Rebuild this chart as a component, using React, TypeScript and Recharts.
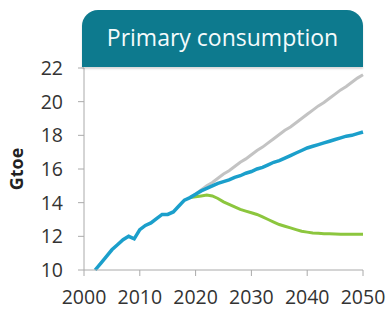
import React from "react";
import { LineChart, Line, XAxis, YAxis } from "recharts";

const years = [2002,2003,2004,2005,2006,2007,2008,2009,2010,2011,2012,2013,2014,2015,2016,2017,2018,2019,2020,2021,2022,2023,2024,2025,2026,2027,2028,2029,2030,2031,2032,2033,2034,2035,2036,2037,2038,2039,2040,2041,2042,2043,2044,2045,2046,2047,2048,2049,2050];

const blueSeries = [10.0,10.4,10.8,11.2,11.5,11.8,12.0,11.85,12.4,12.65,12.8,13.05,13.3,13.3,13.45,13.8,14.15,14.3,14.5,14.7,14.85,15.0,15.15,15.25,15.35,15.5,15.6,15.75,15.85,16.0,16.1,16.25,16.4,16.5,16.65,16.8,16.95,17.1,17.25,17.35,17.45,17.55,17.65,17.75,17.85,17.95,18.0,18.1,18.2];

const grayYears = [2019,2020,2021,2022,2023,2024,2025,2026,2027,2028,2029,2030,2031,2032,2033,2034,2035,2036,2037,2038,2039,2040,2041,2042,2043,2044,2045,2046,2047,2048,2049,2050];
const graySeries = [14.3,14.5,14.75,15.0,15.2,15.45,15.7,15.9,16.15,16.4,16.6,16.85,17.1,17.3,17.55,17.8,18.05,18.3,18.5,18.75,19.0,19.25,19.5,19.75,19.95,20.2,20.45,20.7,20.9,21.15,21.4,21.6];
const greenSeries = [14.3,14.35,14.4,14.45,14.4,14.25,14.05,13.9,13.75,13.6,13.5,13.4,13.3,13.15,13.0,12.85,12.7,12.6,12.5,12.4,12.3,12.25,12.2,12.18,12.16,12.15,12.14,12.13,12.12,12.12,12.12,12.12];

const xTicks = [2000, 2010, 2020, 2030, 2040, 2050];
const yTicks = [10, 12, 14, 16, 18, 20, 22];

const data = years.map((y, i) => {
  const gi = grayYears.indexOf(y);
  return {
    year: y,
    blue: blueSeries[i],
    gray: gi >= 0 ? graySeries[gi] : null,
    green: gi >= 0 ? greenSeries[gi] : null,
  };
});

const font = "'Open Sans', sans-serif";

export default function App() {
  return (
    <div style={{ position: "absolute", left: 0, top: 0, width: 387, height: 310, background: "#fff", fontFamily: font }}>
      <LineChart width={387} height={310} data={data} margin={{ top: 68, right: 24, bottom: 0, left: 0 }}>
        <XAxis
          dataKey="year"
          type="number"
          domain={[2000, 2050]}
          ticks={xTicks}
          tickSize={6}
          tickMargin={14}
          height={40}
          stroke="#aaa"
          tick={{ fill: "#333", fontSize: 19.5, fontFamily: font }}
        />
        <YAxis
          domain={[10, 22]}
          ticks={yTicks}
          tickSize={6}
          tickMargin={15}
          width={84}
          stroke="#aaa"
          tick={{ fill: "#333", fontSize: 19.5, fontFamily: font }}
          label={{ value: "Gtoe", angle: -90, position: "insideLeft", dx: 12, style: { fill: "#222", fontSize: 18, fontWeight: 700, fontFamily: font, textAnchor: "middle" } }}
        />
        <Line dataKey="gray" stroke="#c3c3c3" strokeWidth={3} dot={false} isAnimationActive={false} connectNulls={false} />
        <Line dataKey="green" stroke="#8cc63e" strokeWidth={3} dot={false} isAnimationActive={false} connectNulls={false} />
        <Line dataKey="blue" stroke="#1b9fcb" strokeWidth={3.5} dot={false} isAnimationActive={false} />
      </LineChart>
      <div
        style={{
          position: "absolute",
          left: 82,
          top: 10,
          width: 281,
          height: 57,
          background: "#0d7a8e",
          borderRadius: "16px 16px 0 0",
          color: "#f4fbfc",
          fontSize: 23,
          lineHeight: "54px",
          textAlign: "center",
          boxShadow: "0 2px 2px rgba(0,0,0,0.15)",
        }}
      >
        Primary consumption
      </div>
    </div>
  );
}
